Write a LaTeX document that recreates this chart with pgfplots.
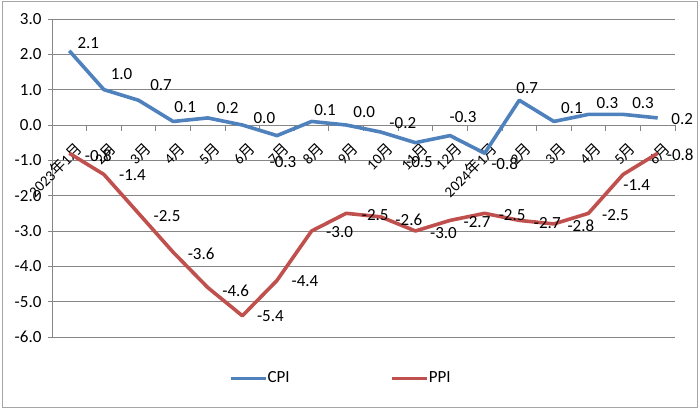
\documentclass[border=0pt]{standalone}
\usepackage{pgfplots}
\pgfplotsset{compat=1.18}
\usepackage{pgfplotstable}
\usepackage{fontspec}
\setmainfont{Carlito}
\newfontfamily\cjk{Noto Sans CJK SC}
\newcommand\Y{{\cjk 年}}
\newcommand\M{{\cjk 月}}
\definecolor{cpiblue}{RGB}{79,129,189}
\definecolor{ppired}{RGB}{192,80,77}
\definecolor{gridgray}{RGB}{134,134,134}
\definecolor{framegray}{RGB}{165,165,165}
\newcommand\lblfont{\fontsize{17}{20}\selectfont}
\newcommand\xlblfont{\fontsize{15}{18}\selectfont}

\pgfplotstableread{
x  y    dx   dy    lab
1  2.1  19   8     2.1
2  1.0  17.6 15.7  1.0
3  0.7  22.5 15    0.7
4  0.1  12   14.5  0.1
5  0.2  20   10    0.2
6  0.0  22   7     0.0
7  -0.3 6    -26.5 -0.3
8  0.1  13.5 11.5  0.1
9  0.0  18   13    0.0
10 -0.2 22   9     -0.2
11 -0.5 4    -19   -0.5
12 -0.3 13   18.6  -0.3
13 -0.8 20   -10   -0.8
14 0.7  8    12    0.7
15 0.1  18   13.5  0.1
16 0.3  19   11    0.3
17 0.3  20   11    0.3
18 0.2  24.5 -1    0.2
}\cpi

\pgfplotstableread{
x  y    dx   dy    lab
1  -0.8 29   -2    -0.8
2  -1.4 28.5 -1    -1.4
3  -2.5 28.5 -3    -2.5
4  -3.6 28   -2    -3.6
5  -4.6 28   -3.5  -4.6
6  -5.4 28   -0.5  -5.4
7  -4.4 28   -1    -4.4
8  -3.0 28   -1    -3.0
9  -2.5 29   -2    -2.5
10 -2.6 28   -2.7  -2.6
11 -3.0 28   -1.6  -3.0
12 -2.7 27   -2    -2.7
13 -2.5 27.5 -2    -2.5
14 -2.7 28   -2.5  -2.7
15 -2.8 27   -2    -2.8
16 -2.5 27   -2    -2.5
17 -1.4 13.6 -10.6 -1.4
18 -0.8 22.5 -1    -0.8
}\ppi

\begin{document}
\begin{tikzpicture}[x=1pt,y=1pt]
\useasboundingbox (0,0) rectangle (700,409);
\draw[framegray, line width=1pt] (2,2) rectangle (697,407);
\begin{axis}[
  at={(52pt,72pt)}, anchor=south west,
  width=623pt, height=318pt, scale only axis,
  xmin=0.5, xmax=18.5, ymin=-6, ymax=3,
  axis x line=middle, axis y line=left,
  axis line style={draw=gridgray, line width=0.9pt, -},
  ytick={-6,-5,...,3},
  ymajorgrids, grid style={gridgray, line width=0.9pt},
  yticklabel style={/pgf/number format/fixed, /pgf/number format/fixed zerofill, /pgf/number format/precision=1, /pgf/number format/assume math mode=true, xshift=-3pt, font=\lblfont},
  xtick={1,...,18},
  xticklabels={2023\Y1\M,2\M,3\M,4\M,5\M,6\M,7\M,8\M,9\M,10\M,11\M,12\M,2024\Y1\M,2\M,3\M,4\M,5\M,6\M},
  xticklabel style={font=\xlblfont, rotate=45, anchor=north east, inner sep=0pt, xshift=-5pt, yshift=-12pt},
  minor xtick={1.5,2.5,...,18.5},
  xtick align=outside, ytick align=outside,
  major x tick style={draw=none},
  minor x tick style={draw=gridgray, line width=0.9pt},
  y tick style={draw=gridgray, line width=0.9pt},
  major tick length=4pt, minor tick length=6pt,
  clip=false,
  legend style={at={(axis description cs:0.284,-0.129)}, anchor=west, draw=none, fill=none, inner sep=0pt,
    font=\lblfont, legend columns=2, nodes={inner sep=0.5pt},
    /tikz/every even column/.append style={column sep=100pt}},
  legend image code/.code={\draw[#1, line width=3pt] (0pt,0pt) -- (35pt,0pt);},
]
\addplot[cpiblue, line width=3.6pt, line join=round, no markers,
  nodes near coords, point meta=explicit symbolic,
  visualization depends on={\thisrow{dx}\as\dx},
  visualization depends on={\thisrow{dy}\as\dy},
  nodes near coords style={font=\lblfont, text=black, anchor=center, inner sep=0pt, xshift=\dx pt, yshift=\dy pt}]
  table[x=x, y=y, meta=lab] {\cpi};
\addlegendentry{CPI}
\addplot[ppired, line width=3.6pt, line join=round, no markers,
  nodes near coords, point meta=explicit symbolic,
  visualization depends on={\thisrow{dx}\as\dx},
  visualization depends on={\thisrow{dy}\as\dy},
  nodes near coords style={font=\lblfont, text=black, anchor=center, inner sep=0pt, xshift=\dx pt, yshift=\dy pt}]
  table[x=x, y=y, meta=lab] {\ppi};
\addlegendentry{PPI}
\end{axis}
\end{tikzpicture}
\end{document}
